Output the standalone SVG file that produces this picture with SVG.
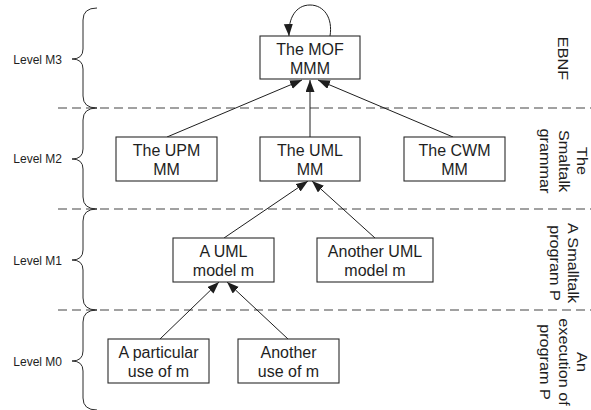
<svg xmlns="http://www.w3.org/2000/svg" width="591" height="410" viewBox="0 0 591 410">
<defs>
<style>
.bg{fill:#ffffff}
.box{fill:#ffffff;stroke:#2b2b2b;stroke-width:1.1}
.t{font-family:"Liberation Sans",Arial,sans-serif;font-size:16px;fill:#1e1e1e;text-anchor:middle}
.lv{font-family:"Liberation Sans",Arial,sans-serif;font-size:12px;fill:#1e1e1e;text-anchor:end}
.rt{font-family:"Liberation Sans",Arial,sans-serif;font-size:14.5px;fill:#1e1e1e;text-anchor:middle}
.dash{stroke:#444;stroke-width:1.1;stroke-dasharray:9,5;fill:none}
.brace{stroke:#2b2b2b;stroke-width:1;fill:none}
.c{stroke:#1e1e1e;stroke-width:1;fill:none;marker-end:url(#ah)}
</style>
<marker id="ah" markerUnits="userSpaceOnUse" markerWidth="13" markerHeight="10" refX="12" refY="4.5" orient="auto">
<path d="M0,0 L12,4.5 L0,9 z" fill="#1e1e1e"/>
</marker>
</defs>
<rect class="bg" x="0" y="0" width="591" height="410"/>

<g id="separators">
<line class="dash" x1="58" y1="108" x2="591" y2="108"/>
<line class="dash" x1="58" y1="209" x2="591" y2="209"/>
<line class="dash" x1="58" y1="310" x2="591" y2="310"/>
</g>

<g id="levels">
<path class="brace" d="M97,8 Q83,8 83,20 L83,49 Q83,59 72,59 Q83,59 83,69 L83,96 Q83,108 97,108"/>
<path class="brace" d="M97,108 Q83,108 83,120 L83,149 Q83,159 72,159 Q83,159 83,169 L83,197 Q83,209 97,209"/>
<path class="brace" d="M97,209 Q83,209 83,221 L83,250 Q83,260 72,260 Q83,260 83,270 L83,298 Q83,310 97,310"/>
<path class="brace" d="M97,310 Q83,310 83,322 L83,351 Q83,361 72,361 Q83,361 83,371 L83,398 Q83,410 97,410"/>
<text class="lv" x="62" y="64">Level M3</text>
<text class="lv" x="62" y="163">Level M2</text>
<text class="lv" x="62" y="265">Level M1</text>
<text class="lv" x="62" y="366">Level M0</text>
</g>

<g id="side-labels">
<g transform="translate(558,58.5) rotate(90) scale(1.12,1)"><text class="rt" x="0" y="0">EBNF</text></g>
<g transform="translate(577,161) rotate(90) scale(1.12,1)"><text class="rt" x="0" y="0">The</text><text class="rt" x="0" y="18.5">Smaltalk</text><text class="rt" x="0" y="37">grammar</text></g>
<g transform="translate(568,263) rotate(90) scale(1.12,1)"><text class="rt" x="0" y="0">A Smalltalk</text><text class="rt" x="0" y="18.5">program P</text></g>
<g transform="translate(577,362) rotate(90) scale(1.12,1)"><text class="rt" x="0" y="0">An</text><text class="rt" x="0" y="18.5">execution of</text><text class="rt" x="0" y="37">program P</text></g>
</g>

<g id="connectors">
<path class="c" d="M330,36 C333,18 324,5 310,5 C296,5 288,18 289,36"/>
<line class="c" x1="167" y1="137" x2="302" y2="80"/>
<line class="c" x1="310" y1="137" x2="310" y2="80"/>
<line class="c" x1="453" y1="137" x2="318" y2="80"/>
<line class="c" x1="224" y1="238" x2="308" y2="181"/>
<line class="c" x1="375" y1="238" x2="312" y2="181"/>
<line class="c" x1="160" y1="339" x2="219" y2="282"/>
<line class="c" x1="288" y1="339" x2="227" y2="282"/>
</g>

<g id="mof">
<rect class="box" x="260" y="36" width="100" height="43"/>
<text class="t" x="310" y="55">The MOF</text>
<text class="t" x="310" y="73.5">MMM</text>
</g>
<g id="upm">
<rect class="box" x="116" y="137" width="101" height="44"/>
<text class="t" x="166.5" y="156">The UPM</text>
<text class="t" x="166.5" y="174.5">MM</text>
</g>
<g id="uml-mm">
<rect class="box" x="260" y="137" width="100" height="44"/>
<text class="t" x="310" y="156">The UML</text>
<text class="t" x="310" y="174.5">MM</text>
</g>
<g id="cwm">
<rect class="box" x="404" y="137" width="101" height="44"/>
<text class="t" x="454.5" y="156">The CWM</text>
<text class="t" x="454.5" y="174.5">MM</text>
</g>
<g id="uml-model">
<rect class="box" x="173" y="238" width="101" height="44"/>
<text class="t" x="223.5" y="257">A UML</text>
<text class="t" x="223.5" y="275.5">model m</text>
</g>
<g id="another-uml-model">
<rect class="box" x="317" y="238" width="116" height="44"/>
<text class="t" x="375" y="257">Another UML</text>
<text class="t" x="375" y="275.5">model m</text>
</g>
<g id="particular-use">
<rect class="box" x="108" y="339" width="101" height="44"/>
<text class="t" x="158.5" y="358">A particular</text>
<text class="t" x="158.5" y="376.5">use of m</text>
</g>
<g id="another-use">
<rect class="box" x="238" y="339" width="101" height="44"/>
<text class="t" x="288.5" y="358">Another</text>
<text class="t" x="288.5" y="376.5">use of m</text>
</g>
</svg>
